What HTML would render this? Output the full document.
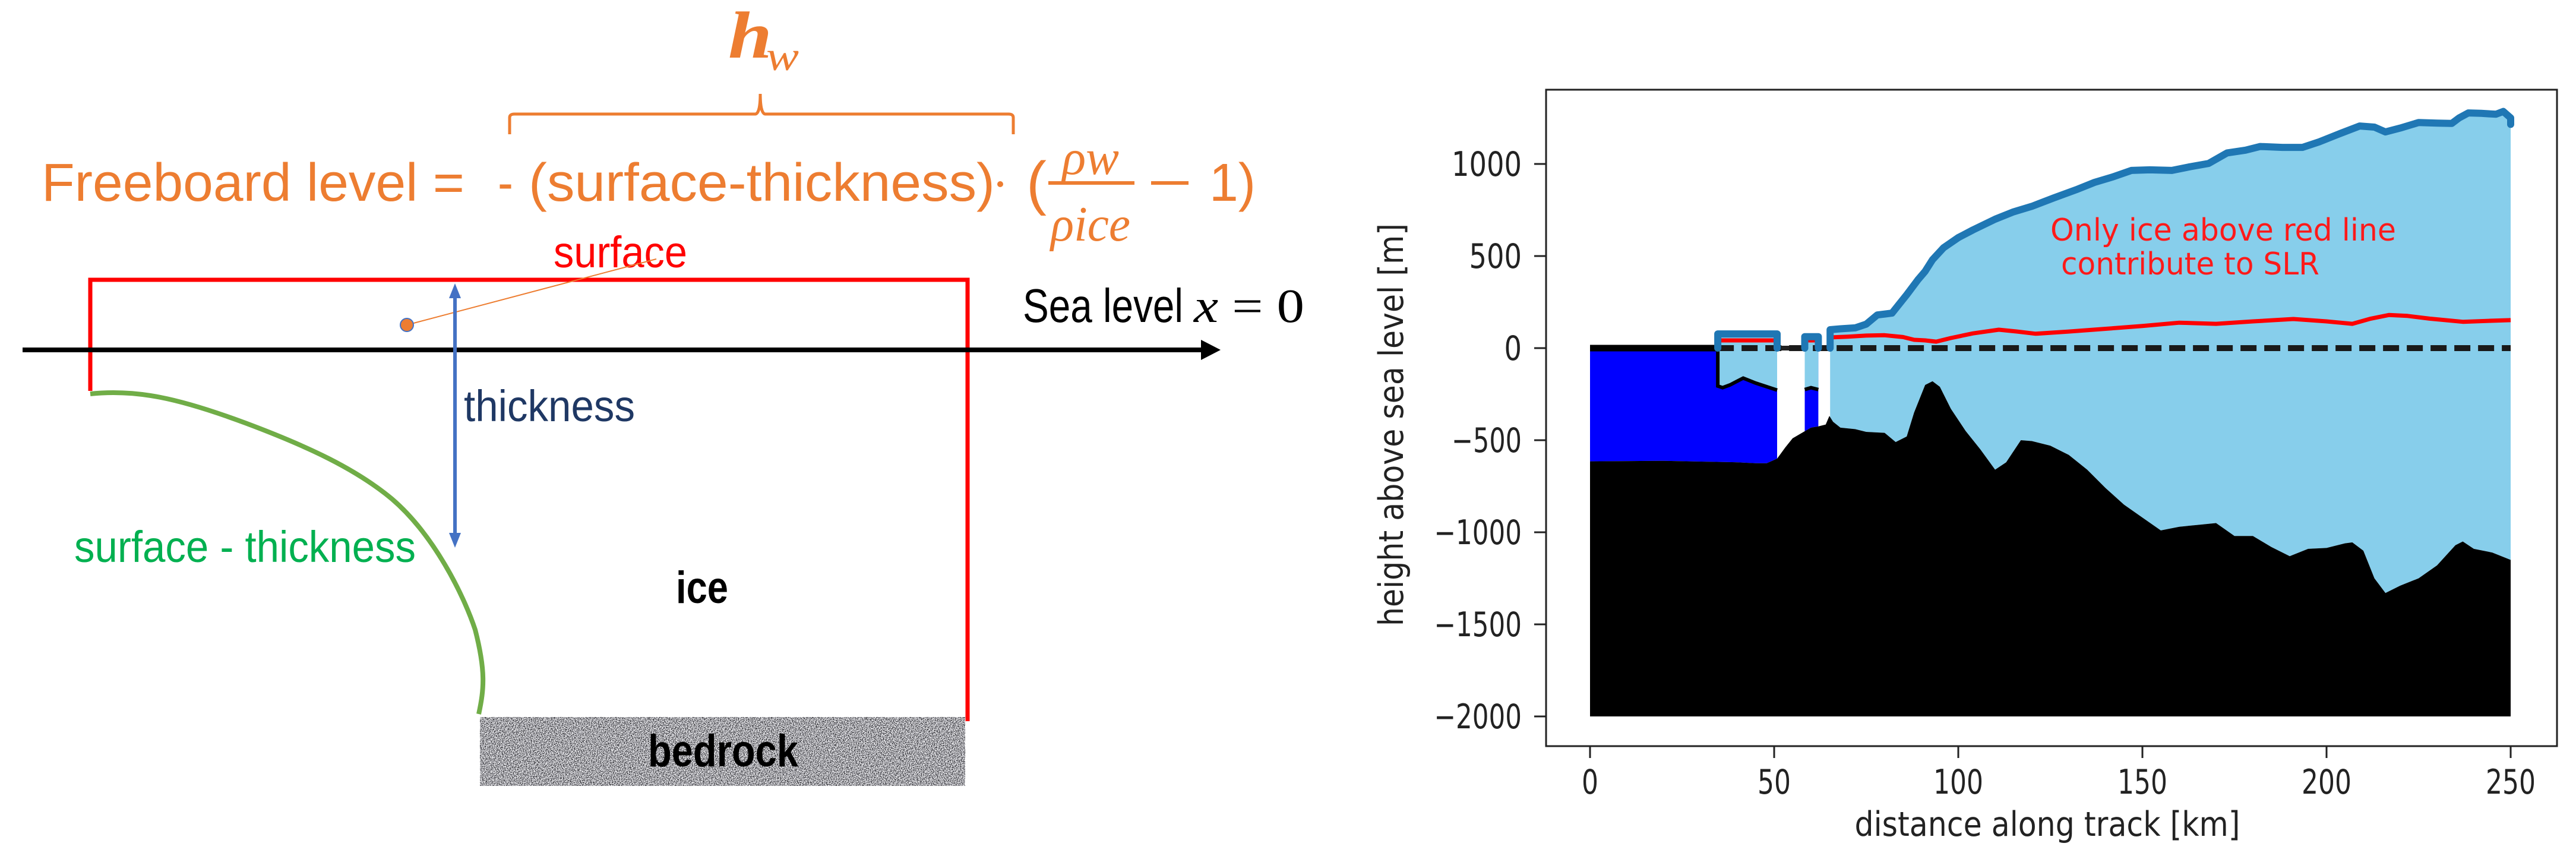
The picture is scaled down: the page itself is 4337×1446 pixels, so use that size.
<!DOCTYPE html>
<html><head><meta charset="utf-8"><style>html,body{margin:0;padding:0;background:#fff;}svg{display:block;}</style></head>
<body>
<svg id="root" xmlns="http://www.w3.org/2000/svg" width="4337" height="1446" viewBox="0 0 4337 1446">
<defs>
<filter id="noise" x="0" y="0" width="100%" height="100%" color-interpolation-filters="sRGB">
<feTurbulence type="fractalNoise" baseFrequency="0.7" numOctaves="1" seed="3" result="t"/>
<feColorMatrix in="t" type="matrix" values="2.6 0 0 0 -0.66  2.6 0 0 0 -0.66  2.6 0 0 0 -0.64  0 0 0 0 1"/>
</filter>
</defs>
<g>
<g fill="#ed7d31" font-family="Liberation Sans, sans-serif">
<text x="1226" y="97" font-family="Liberation Serif, serif" font-weight="bold" font-style="italic" font-size="112" textLength="74" lengthAdjust="spacingAndGlyphs">h</text>
<text x="1290" y="118" font-family="Liberation Serif, serif" font-style="italic" font-size="70" textLength="55" lengthAdjust="spacingAndGlyphs">w</text>
<path d="M858 226 L858 198 Q858 192 866 192 L1272 192 Q1280 190 1280 158 Q1280 190 1288 192 L1698 192 Q1706 192 1706 198 L1706 226" fill="none" stroke="#ed7d31" stroke-width="5"/>
<text x="70" y="338" font-size="90" textLength="712" lengthAdjust="spacingAndGlyphs">Freeboard level =</text>
<text x="838" y="338" font-size="90" textLength="26" lengthAdjust="spacingAndGlyphs">-</text>
<text x="890" y="338" font-size="90" textLength="785" lengthAdjust="spacingAndGlyphs">(surface-thickness)</text>
<circle cx="1684" cy="310" r="5"/>
<text x="1728" y="342" font-size="100" textLength="34" lengthAdjust="spacingAndGlyphs">(</text>
<text x="1788" y="293" font-family="Liberation Serif, serif" font-style="italic" font-size="84" textLength="96" lengthAdjust="spacingAndGlyphs">ρw</text>
<rect x="1765" y="305" width="145" height="6"/>
<text x="1769" y="405" font-family="Liberation Serif, serif" font-style="italic" font-size="84" textLength="134" lengthAdjust="spacingAndGlyphs">ρice</text>
<rect x="1938" y="305" width="63" height="6"/>
<text x="2036" y="338" font-size="90" textLength="78" lengthAdjust="spacingAndGlyphs">1)</text>
</g>
<text x="932" y="450" fill="#ff0000" font-family="Liberation Sans, sans-serif" font-size="74" textLength="225" lengthAdjust="spacingAndGlyphs">surface</text>
<path d="M152 658 L152 471 L1629 471 L1629 1214" fill="none" stroke="#ff0000" stroke-width="7"/>
<line x1="38" y1="589" x2="2030" y2="589" stroke="#000" stroke-width="8"/>
<polygon points="2055,589 2022,572 2022,606" fill="#000"/>
<text x="1722" y="542" fill="#000" font-family="Liberation Sans, sans-serif" font-size="80" textLength="270" lengthAdjust="spacingAndGlyphs">Sea level</text>
<text x="2010" y="542" fill="#000" font-family="Liberation Serif, serif" font-size="80" textLength="186" lengthAdjust="spacingAndGlyphs"><tspan font-style="italic">x</tspan> = 0</text>
<line x1="685" y1="547" x2="1105" y2="436" stroke="#ed7d31" stroke-width="2"/>
<circle cx="685" cy="547" r="11" fill="#ed7d31" stroke="#4472c4" stroke-width="2"/>
<line x1="766" y1="495" x2="766" y2="905" stroke="#4472c4" stroke-width="6"/>
<polygon points="766,477 756,502 776,502" fill="#4472c4"/>
<polygon points="766,922 756,897 776,897" fill="#4472c4"/>
<text x="781" y="709" fill="#1f3864" font-family="Liberation Sans, sans-serif" font-size="74" textLength="288" lengthAdjust="spacingAndGlyphs">thickness</text>
<path d="M152 663 C230 655 300 670 413 712 C520 752 600 790 660 840 C730 900 780 1000 800 1060 C818 1130 815 1160 806 1202" fill="none" stroke="#70ad47" stroke-width="8"/>
<text x="125" y="946" fill="#00b050" font-family="Liberation Sans, sans-serif" font-size="74" textLength="575" lengthAdjust="spacingAndGlyphs">surface - thickness</text>
<text x="1138" y="1015" fill="#000" font-family="Liberation Sans, sans-serif" font-weight="bold" font-size="76" textLength="88" lengthAdjust="spacingAndGlyphs">ice</text>
<rect x="808" y="1207" width="817" height="116" fill="#a6a6a6" filter="url(#noise)"/>
<text x="1091" y="1290" fill="#000" font-family="Liberation Sans, sans-serif" font-weight="bold" font-size="76" textLength="253" lengthAdjust="spacingAndGlyphs">bedrock</text>
</g>
<g id="chart"></g>
</svg>
<script>
var surfKm = [65.2,68,72,75,78,82,86,89,91,93,96,100,104,110,115,120,126,132,137,142,147,152,158,163,168,173,178,182,188,193.5,198,203,209,213,216,220,225,230,234,236,238.5,242,246,248,250];
var surfM = [100,105,110,130,180,190,290,370,417,480,545,600,642,700,740,770,816,860,900,930,965,968,965,985,1003,1060,1075,1095,1090,1090,1120,1160,1206,1200,1174,1195,1225,1222,1220,1250,1277,1275,1270,1285,1250];
var redKm = [65.2,70,75,80,85,88,91,94,98,104,111,116,121,130,140,150,160,170,180,191,200,207,212,217,222,228,237,244,250];
var redM = [58,62,68,70,60,45,42,35,55,80,100,90,78,90,105,120,138,132,145,158,145,132,160,180,175,160,143,148,152];
var bedKm = [0,20,40,45,48,50.8,53,55,58,60,62,64,65,66,68,72,75,80,83,86,88,91,93,95,98,102,106,110,113,117,120,125,130,135,140,145,150,155,160,165,170,175,180,185,190,195,200,205,207,210,213,216,220,225,230,235,237,240,245,250];
var bedM = [-615,-612,-620,-625,-625,-600,-540,-490,-455,-432,-425,-415,-368,-400,-432,-440,-455,-460,-510,-480,-350,-200,-180,-210,-330,-450,-550,-660,-620,-500,-505,-530,-580,-660,-760,-850,-920,-990,-970,-960,-950,-1020,-1020,-1080,-1130,-1090,-1085,-1060,-1055,-1100,-1250,-1330,-1290,-1250,-1180,-1070,-1050,-1090,-1110,-1150];
var shelfKm = [[34.7,50.8],[58.3,62]];
var shelfSurfM = [77,62];
var shelfRedM = [42,42];
var shelfBotKm = [[34.7,36,38,41.6,45,50.8],[58.3,60,62]];
var shelfBotM = [[-206,-215,-200,-163,-190,-228],[-225,-215,-225]];
var xTicks = [0,50,100,150,200,250];
var yTicks = [1000,500,0,-500,-1000,-1500,-2000];
var bedBase = -2000;

var NS = 'http://www.w3.org/2000/svg';
var chart = document.getElementById('chart');
function X(km){ return 2677 + km*6.2; }
function Y(m){ return 586 - m*0.31; }
function mk(tag, attrs, parent){
  var e = document.createElementNS(NS, tag);
  for (var k in attrs) e.setAttribute(k, attrs[k]);
  (parent||chart).appendChild(e);
  return e;
}
function bedAt(km){
  for (var i=0;i<bedKm.length-1;i++){
    if (km>=bedKm[i] && km<=bedKm[i+1]){
      var t=(km-bedKm[i])/(bedKm[i+1]-bedKm[i]);
      return bedM[i]+t*(bedM[i+1]-bedM[i]);
    }
  }
  return bedM[bedM.length-1];
}
function bedPts(a,b){
  var pts=[[a,bedAt(a)]];
  for (var i=0;i<bedKm.length;i++) if (bedKm[i]>a && bedKm[i]<b) pts.push([bedKm[i],bedM[i]]);
  pts.push([b,bedAt(b)]);
  return pts;
}
function ptsStr(p){ return p.map(function(q){return X(q[0]).toFixed(1)+','+Y(q[1]).toFixed(1);}).join(' '); }

var ocean1 = [[0,0],[shelfKm[0][1],0]].concat(bedPts(0,shelfKm[0][1]).reverse());
var e = mk('polygon',{points:ptsStr(ocean1),fill:'#0000ff'});


var ocean2 = [[shelfKm[1][0],0],[shelfKm[1][1],0]].concat(bedPts(shelfKm[1][0],shelfKm[1][1]).reverse());
e = mk('polygon',{points:ptsStr(ocean2),fill:'#0000ff'});



for (var s=0;s<2;s++){
  var p=[[shelfKm[s][0],shelfSurfM[s]],[shelfKm[s][1],shelfSurfM[s]]];
  var bk=shelfBotKm[s], bm=shelfBotM[s];
  for (var i=bk.length-1;i>=0;i--) p.push([bk[i],bm[i]]);
  e = mk('polygon',{points:ptsStr(p),fill:'#87ceeb'});
  
  
  var bl=[]; for (var j=0;j<bk.length;j++) bl.push([bk[j],bm[j]]);
  if (s===0) bl.unshift([bk[0],0]);
  e = mk('polyline',{points:ptsStr(bl),fill:'none',stroke:'#000','stroke-width':6});
  
  
}
var g=[]; for (var i=0;i<surfKm.length;i++) g.push([surfKm[i],surfM[i]]);
g = g.concat(bedPts(surfKm[0],surfKm[surfKm.length-1]).reverse());
e = mk('polygon',{points:ptsStr(g),fill:'#87ceeb'});


var b = bedPts(0,250).concat([[250,bedBase],[0,bedBase]]);
e = mk('polygon',{points:ptsStr(b),fill:'#000'});


e = mk('line',{x1:X(0),y1:Y(0),x2:X(shelfKm[0][0]),y2:Y(0),stroke:'#000','stroke-width':11});


e = mk('line',{x1:X(shelfKm[0][1]),y1:Y(0),x2:X(shelfKm[1][0]),y2:Y(0),stroke:'#222','stroke-width':8});


e = mk('line',{x1:X(shelfKm[0][0]),y1:Y(0),x2:X(250),y2:Y(0),stroke:'#1a1a1a','stroke-width':10,'stroke-dasharray':'27 13'});


for (var s=0;s<2;s++){
  e = mk('line',{x1:X(shelfKm[s][0]),y1:Y(shelfRedM[s]),x2:X(shelfKm[s][1]),y2:Y(shelfRedM[s]),stroke:'#ff0000','stroke-width':7});
  
  
}
var r=[]; for (var i=0;i<redKm.length;i++) r.push([redKm[i],redM[i]]);
e = mk('polyline',{points:ptsStr(r),fill:'none',stroke:'#ff0000','stroke-width':7,'stroke-linejoin':'round'});


for (var s=0;s<2;s++){
  var sp=[[shelfKm[s][0],0],[shelfKm[s][0],shelfSurfM[s]],[shelfKm[s][1],shelfSurfM[s]],[shelfKm[s][1],0]];
  e = mk('polyline',{points:ptsStr(sp),fill:'none',stroke:'#1f77b4','stroke-width':12,'stroke-linejoin':'round','stroke-linecap':'round'});
  
  
}
var sp=[[surfKm[0],0]]; for (var i=0;i<surfKm.length;i++) sp.push([surfKm[i],surfM[i]]);
sp.push([250,1215]);
e = mk('polyline',{points:ptsStr(sp),fill:'none',stroke:'#1f77b4','stroke-width':12,'stroke-linejoin':'round','stroke-linecap':'round'});


e = mk('rect',{x:2603,y:151,width:1702,height:1105,fill:'none',stroke:'#222','stroke-width':3});


for (var i=0;i<xTicks.length;i++){
  var xx=X(xTicks[i]);
  e = mk('line',{x1:xx,y1:1256,x2:xx,y2:1276,stroke:'#222','stroke-width':3});
  
  
  var lab=String(xTicks[i]);
  e = mk('text',{x:xx,y:1336,'text-anchor':'middle','font-family':'DejaVu Sans, sans-serif','font-size':57,fill:'#222',textLength:lab.length*28,lengthAdjust:'spacingAndGlyphs'});
  e.textContent=lab;
  
  
}
for (var i=0;i<yTicks.length;i++){
  var yy=Y(yTicks[i]);
  e = mk('line',{x1:2583,y1:yy,x2:2603,y2:yy,stroke:'#222','stroke-width':3});
  
  
  var lab=String(yTicks[i]).replace('-','\u2212');
  e = mk('text',{x:2562,y:yy+20,'text-anchor':'end','font-family':'DejaVu Sans, sans-serif','font-size':57,fill:'#222',textLength:lab.length*29.5,lengthAdjust:'spacingAndGlyphs'});
  e.textContent=lab;
  
  
}
e = mk('text',{x:3447,y:1407,'text-anchor':'middle','font-family':'DejaVu Sans, sans-serif','font-size':57,fill:'#222',textLength:649,lengthAdjust:'spacingAndGlyphs'});
e.textContent='distance along track [km]';


e = mk('text',{x:0,y:0,transform:'translate(2362,715) rotate(-90)','text-anchor':'middle','font-family':'DejaVu Sans, sans-serif','font-size':57,fill:'#222',textLength:678,lengthAdjust:'spacingAndGlyphs'});
e.textContent='height above sea level [m]';


e = mk('text',{x:3452,y:405,'font-family':'DejaVu Sans, sans-serif','font-size':52,fill:'#ff1a1a',textLength:582,lengthAdjust:'spacingAndGlyphs'});
e.textContent='Only ice above red line';


e = mk('text',{x:3470,y:462,'font-family':'DejaVu Sans, sans-serif','font-size':52,fill:'#ff1a1a',textLength:435,lengthAdjust:'spacingAndGlyphs'});
e.textContent='contribute to SLR';


</script>
</body></html>
